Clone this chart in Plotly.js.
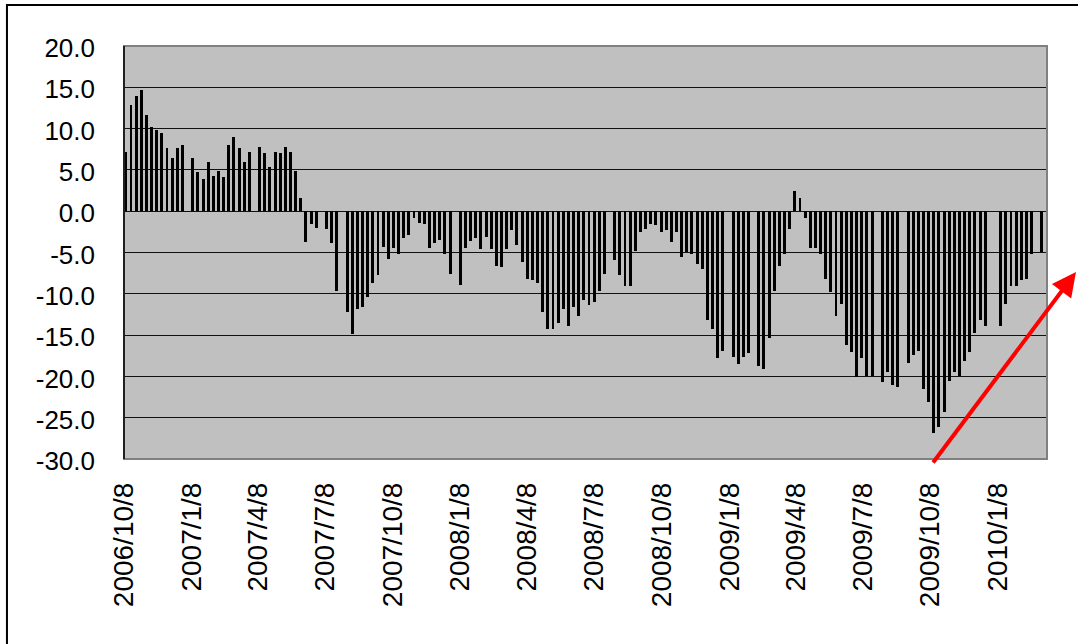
<!DOCTYPE html>
<html>
<head>
<meta charset="utf-8">
<script src="https://cdn.plot.ly/plotly-3.0.1.min.js"></script>
<style>
  html, body { margin: 0; padding: 0; background: #fff; }
  #chart { width: 1078px; height: 644px; }
</style>
</head>
<body>
<div id="chart"></div>
<script>
// Weekly series, first observation week of 2006/10/8 (null = no data that week)
const startDate = '2006-10-10';
const weekMs = 7 * 24 * 3600 * 1000;
const values = [
  7.2, 12.8, 13.9, 14.7, 11.6, 10.2, 9.8, 9.5, 7.6, 6.5, 7.6, 8.0, null,
  6.5, 4.7, 3.9, 6.0, 4.3, 4.9, 4.2, 8.0, 9.0, 7.6, 6.0, 7.2, null,
  7.75, 7.0, 5.3, 7.2, 7.0, 7.75, 7.2, 4.9, 1.6, -3.7, -1.6, -2.0, null,
  -2.1, -3.9, -9.6, null, -12.2, -14.9, -11.9, -11.6, -10.4, -8.7, -7.75, -4.3, -5.8,
  -4.5, -5.2, -3.3, -2.9, -0.8, -1.4, -1.5, -4.5, -3.8, -3.5, -5.2, -7.55, null,
  -8.9, -4.4, -3.6, -3.3, -4.6, -3.1, -4.6, -6.6, -6.8, -4.6, -2.3, -4.1, -6.2,
  -8.15, -8.3, -8.7, -12.2, -14.3, -14.3, -13.5, -11.8, -13.9, -11.6, -12.7, -10.8, -11.4,
  -11.0, -9.6, -7.55, null, -5.9, -7.7, -9.1, -9.1, -4.8, -2.5, -2.1, -1.5, -1.7,
  -2.5, -2.3, -3.7, -2.5, -5.6, -4.9, -5.2, -6.4, -6.95, -13.2, -14.3, -17.75, -16.9,
  null, -17.6, -18.55, -17.6, -17.15, null, -18.75, -19.15, -15.3, -9.6, -6.6, -5.2, -2.1,
  2.4, 1.6, -0.8, -4.5, -4.5, -5.2, -8.15, -9.8, -12.7, -11.2, -16.2, -17.1, -20.1,
  -17.75, -20.0, -20.0, null, -20.7, -19.5, -21.1, -21.3, null, -18.35, -17.35, -16.9, -21.5,
  -23.1, -26.8, -26.1, -24.3, -20.6, -19.5, -20.0, -18.15, -17.1, -14.7, -13.2, -13.9, null,
  null, -13.9, -11.2, -9.0, -9.1, -8.3, -8.15, -5.2, null, -4.9
];

const xTickVals = ['2006-10-08','2007-01-08','2007-04-08','2007-07-08','2007-10-08','2008-01-08',
  '2008-04-08','2008-07-08','2008-10-08','2009-01-08','2009-04-08','2009-07-08','2009-10-08','2010-01-08'];
const xTickText = ['2006/10/8','2007/1/8','2007/4/8','2007/7/8','2007/10/8','2008/1/8',
  '2008/4/8','2008/7/8','2008/10/8','2009/1/8','2009/4/8','2009/7/8','2009/10/8','2010/1/8'];
const yTickVals = [20, 15, 10, 5, 0, -5, -10, -15, -20, -25, -30];
const yTickText = ['20.0','15.0','10.0','5.0','0.0','-5.0','-10.0','-15.0','-20.0','-25.0','-30.0'];

const font = 'Liberation Sans, Arial, Helvetica, sans-serif';

const trace = {
  type: 'bar',
  x0: startDate,
  dx: weekMs,
  y: values,
  width: 4 * 24 * 3600 * 1000,
  marker: { color: '#000000', line: { width: 0 } },
  hoverinfo: 'y'
};

const layout = {
  width: 1078,
  height: 644,
  margin: { l: 124, r: 31, t: 46, b: 185, pad: 0 },
  paper_bgcolor: '#ffffff',
  plot_bgcolor: '#c0c0c0',
  showlegend: false,
  bargap: 0,
  font: { family: font, color: '#000000' },
  xaxis: {
    type: 'date',
    range: ['2006-10-07 12:00', '2010-03-16'],
    tickmode: 'array',
    tickvals: xTickVals,
    ticktext: xTickText,
    tickangle: -90,
    tickfont: { family: font, size: 28, color: '#000' },
    showgrid: false,
    zeroline: false,
    showline: false,
    ticks: '',
    ticklabelstandoff: 17,
    fixedrange: true
  },
  yaxis: {
    range: [-30, 20],
    tickmode: 'array',
    tickvals: yTickVals,
    ticktext: yTickText,
    tickfont: { family: font, size: 26, color: '#000' },
    showgrid: true,
    gridcolor: '#111111',
    gridwidth: 1,
    zeroline: false,
    showline: false,
    ticks: '',
    ticklabelstandoff: 28,
    ticklabelshift: 2,
    fixedrange: true
  },
  shapes: [
    { type: 'rect', xref: 'paper', yref: 'paper', x0: 0, x1: 1, y0: 0, y1: 1,
      line: { color: '#808080', width: 2 }, layer: 'above' },
    { type: 'line', xref: 'paper', yref: 'paper', x0: 0, x1: 0, y0: 0, y1: 1,
      line: { color: '#000000', width: 1.5 }, layer: 'above' },
    { type: 'rect', xref: 'paper', yref: 'paper', x0: -0.1268, x1: 1.2, y0: -0.7, y1: 1.0993,
      line: { color: '#000000', width: 2 }, layer: 'above' }
  ],
  annotations: [
    { xref: 'paper', yref: 'paper', x: 1.0314, y: 0.4528, ax: -144, ay: 192,
      text: '', showarrow: true, arrowhead: 2, arrowsize: 1.2, arrowwidth: 4,
      arrowcolor: '#ff0000', standoff: 0, startstandoff: 0 }
  ]
};

Plotly.newPlot('chart', [trace], layout, { displayModeBar: false, staticPlot: true });
</script>
</body>
</html>
